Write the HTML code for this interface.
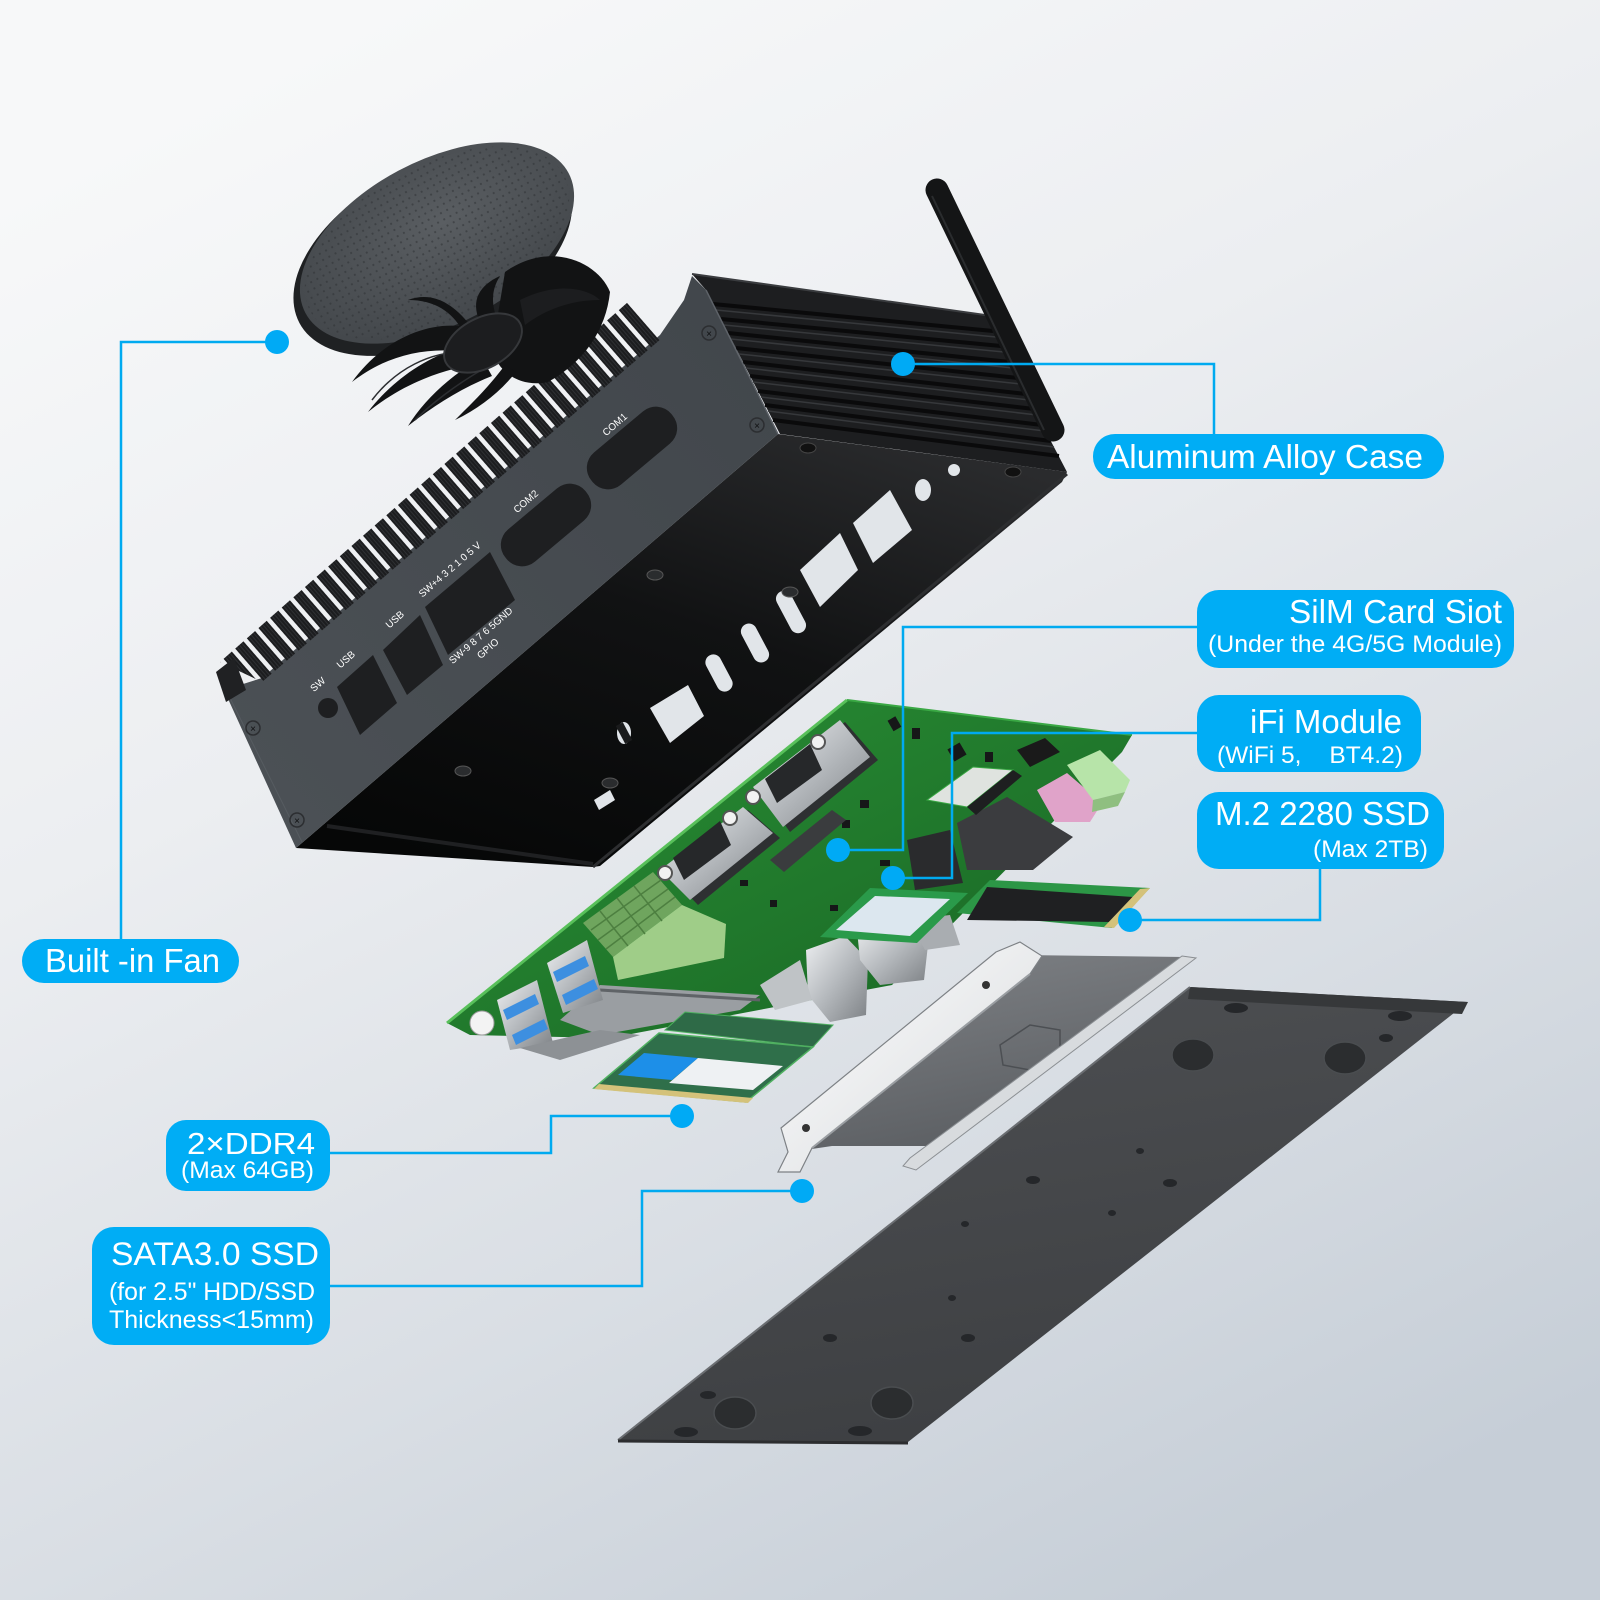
<!DOCTYPE html>
<html><head><meta charset="utf-8"><style>
html,body{margin:0;padding:0;width:1600px;height:1600px;overflow:hidden;background:#e6e9ec}
svg{display:block}
text{font-family:"Liberation Sans",Arial,sans-serif}
</style></head><body>
<svg width="1600" height="1600" viewBox="0 0 1600 1600" xmlns="http://www.w3.org/2000/svg">
<defs>
<linearGradient id="bg" x1="0.25" y1="0" x2="0.75" y2="1">
<stop offset="0" stop-color="#f7f8f9"/><stop offset="0.35" stop-color="#eceef1"/><stop offset="0.7" stop-color="#d9dee4"/><stop offset="1" stop-color="#c6ced7"/></linearGradient>
<pattern id="fins" width="15.5" height="140" patternUnits="userSpaceOnUse" patternTransform="rotate(-41)">
<rect x="0" y="0" width="11" height="140" fill="#1c1d1f"/><rect x="2" y="0" width="1" height="140" fill="#2e3033"/><rect x="5" y="0" width="1" height="140" fill="#2e3033"/><rect x="8" y="0" width="1" height="140" fill="#2e3033"/></pattern>
<pattern id="dots" width="7" height="7" patternUnits="userSpaceOnUse"><circle cx="3.5" cy="3.5" r="1.1" fill="#2f3235"/></pattern>
<radialGradient id="disk" cx="0.55" cy="0.4" r="0.7"><stop offset="0" stop-color="#5a5e62"/><stop offset="1" stop-color="#404448"/></radialGradient>
<linearGradient id="panel" x1="0" y1="1" x2="1" y2="0"><stop offset="0" stop-color="#4c5156"/><stop offset="1" stop-color="#41464b"/></linearGradient>
<linearGradient id="inter" x1="0.8" y1="0" x2="0.2" y2="1"><stop offset="0" stop-color="#2a2b2d"/><stop offset="0.45" stop-color="#111213"/><stop offset="1" stop-color="#060707"/></linearGradient>
<linearGradient id="pcb" x1="0" y1="0" x2="1" y2="1"><stop offset="0" stop-color="#2a9035"/><stop offset="1" stop-color="#186424"/></linearGradient>
<linearGradient id="silver" x1="0" y1="0" x2="1" y2="1"><stop offset="0" stop-color="#eef0f2"/><stop offset="0.5" stop-color="#b6babe"/><stop offset="1" stop-color="#7d8185"/></linearGradient>
<linearGradient id="plate" x1="0" y1="0" x2="0.3" y2="1"><stop offset="0" stop-color="#4e5053"/><stop offset="1" stop-color="#3e4043"/></linearGradient>
<linearGradient id="floor" x1="0" y1="0" x2="0.4" y2="1"><stop offset="0" stop-color="#808387"/><stop offset="1" stop-color="#5c5f63"/></linearGradient>
<linearGradient id="wall" x1="0" y1="0" x2="1" y2="1"><stop offset="0" stop-color="#ffffff"/><stop offset="1" stop-color="#d6d9dc"/></linearGradient>
</defs>

<rect width="1600" height="1600" fill="url(#bg)"/>

<!-- bottom plate -->
<polygon points="1190,987 1468,1002 908,1442 618,1440" fill="url(#plate)"/>
<polygon points="1190,987 1468,1002 1462,1014 1188,999" fill="#36383a"/>
<line x1="1190" y1="987" x2="618" y2="1440" stroke="#6b6e72" stroke-width="2"/>
<line x1="618" y1="1441" x2="908" y2="1443" stroke="#2c2d2f" stroke-width="3"/>
<g fill="#2b2d2f" stroke="#4a4d50" stroke-width="1.5">
<ellipse cx="1193" cy="1055" rx="21" ry="16"/><ellipse cx="1345" cy="1058" rx="21" ry="16"/>
<ellipse cx="735" cy="1413" rx="21" ry="16"/><ellipse cx="892" cy="1403" rx="21" ry="16"/></g>
<g fill="#25272a">
<ellipse cx="1236" cy="1008" rx="12" ry="5"/><ellipse cx="1400" cy="1016" rx="12" ry="5"/>
<ellipse cx="686" cy="1432" rx="12" ry="5"/><ellipse cx="860" cy="1431" rx="12" ry="5"/>
<ellipse cx="1386" cy="1038" rx="7" ry="4"/><ellipse cx="1033" cy="1180" rx="7" ry="4"/>
<ellipse cx="965" cy="1224" rx="4" ry="3"/><ellipse cx="952" cy="1298" rx="4" ry="3"/>
<ellipse cx="968" cy="1338" rx="7" ry="4"/><ellipse cx="830" cy="1338" rx="7" ry="4"/>
<ellipse cx="1140" cy="1151" rx="4" ry="3"/><ellipse cx="1170" cy="1183" rx="7" ry="4"/>
<ellipse cx="1112" cy="1213" rx="4" ry="3"/><ellipse cx="708" cy="1395" rx="8" ry="4"/></g>

<!-- HDD bracket -->
<polygon points="1020,955 1185,957 932,1146 832,1146 805,1150" fill="url(#floor)"/>
<polygon points="1000,1045 1030,1025 1060,1030 1060,1055 1030,1070 1003,1065" fill="none" stroke="#4c4f53" stroke-width="1.5"/>
<polygon points="1182,956 1196,958 916,1170 903,1166 910,1158" fill="#d8dbde" stroke="#8b8f93" stroke-width="1"/>
<polygon points="996,952 1020,942 1042,956 1030,974 812,1148 806,1160 800,1172 778,1172 788,1152 781,1128" fill="url(#wall)" stroke="#7d8185" stroke-width="1.2"/>
<line x1="1030" y1="974" x2="812" y2="1148" stroke="#9a9ea2" stroke-width="2"/>
<circle cx="986" cy="985" r="4" fill="#333"/><circle cx="806" cy="1128" r="4" fill="#333"/>

<!-- PCB -->
<polygon points="447,1023 847,700 1132,735 1122,752 892,985 610,1038 470,1035" fill="url(#pcb)"/>
<line x1="447" y1="1023" x2="847" y2="700" stroke="#58c05a" stroke-width="3"/>
<line x1="847" y1="700" x2="1132" y2="735" stroke="#3aa844" stroke-width="2"/>
<g fill="#161718">
<rect x="890" y="718" width="9" height="12" transform="rotate(-30 894 724)"/><rect x="912" y="728" width="8" height="11"/>
<rect x="950" y="745" width="14" height="14" transform="rotate(-30 957 752)"/><rect x="985" y="752" width="8" height="10"/>
<rect x="860" y="800" width="9" height="8"/><rect x="842" y="820" width="8" height="8"/><rect x="880" y="860" width="10" height="6"/>
<rect x="740" y="880" width="8" height="6"/><rect x="770" y="900" width="7" height="7"/><rect x="830" y="905" width="8" height="6"/></g>
<polygon points="770,860 832,810 846,820 784,872" fill="#3a3c3e"/>
<!-- DB9 connectors -->
<polygon points="760,790 845,722 878,760 790,832" fill="#2e3032"/>
<polygon points="753,787 840,720 870,757 783,827" fill="url(#silver)"/>
<polygon points="765,779 810,744 822,770 777,803" fill="#26282a"/>
<circle cx="818" cy="742" r="7" fill="#f2f2f2" stroke="#555" stroke-width="2"/><circle cx="753" cy="797" r="7" fill="#f2f2f2" stroke="#555" stroke-width="2"/>
<polygon points="668,874 748,810 780,838 698,905" fill="#2e3032"/>
<polygon points="660,870 743,807 773,833 690,900" fill="url(#silver)"/>
<polygon points="673,858 720,821 731,845 684,880" fill="#26282a"/>
<circle cx="730" cy="818" r="7" fill="#f2f2f2" stroke="#555" stroke-width="2"/><circle cx="665" cy="873" r="7" fill="#f2f2f2" stroke="#555" stroke-width="2"/>
<!-- terminal block -->
<polygon points="583,923 653,872 682,905 613,957" fill="#6fa55e"/>
<polygon points="613,957 682,905 726,924 724,958 618,980" fill="#9fcd88"/>
<g stroke="#4d7f40" stroke-width="1.5">
<line x1="591" y1="930" x2="661" y2="880"/><line x1="598" y1="940" x2="668" y2="889"/><line x1="606" y1="949" x2="675" y2="897"/>
<line x1="600" y1="911" x2="628" y2="946"/><line x1="617" y1="898" x2="645" y2="934"/><line x1="634" y1="886" x2="662" y2="921"/></g>
<polygon points="560,1020 600,985 760,995 740,1010 600,1035" fill="#9a9ea2"/>
<line x1="600" y1="990" x2="760" y2="1000" stroke="#5f6367" stroke-width="3"/>
<!-- USB stacks -->
<polygon points="547,963 587,940 603,1000 563,1013" fill="url(#silver)"/>
<polygon points="553,972 585,956 589,966 557,982" fill="#3d8fe0"/><polygon points="562,995 594,979 598,989 566,1005" fill="#3d8fe0"/>
<polygon points="497,1000 537,980 553,1043 510,1050" fill="url(#silver)"/>
<polygon points="503,1010 535,994 539,1004 507,1020" fill="#3d8fe0"/><polygon points="512,1035 544,1019 548,1029 516,1045" fill="#3d8fe0"/>
<polygon points="520,1048 600,1030 640,1035 560,1060" fill="#8d9195"/>
<circle cx="482" cy="1023" r="12" fill="#f3f3f3" stroke="#9a9a9a" stroke-width="1"/>
<!-- silver parts below -->
<polygon points="806,950 845,936 868,960 866,1015 830,1022 808,995" fill="url(#silver)"/>
<polygon points="857,930 905,922 928,945 924,980 880,985 860,960" fill="url(#silver)"/>
<polygon points="908,920 950,915 960,945 925,950" fill="#a9adb1"/>
<polygon points="760,985 800,960 812,1000 775,1010" fill="#bfc3c6"/>
<!-- RAM -->
<polygon points="665,1030 685,1012 833,1025 813,1047" fill="#2e6a47" stroke="#4fb060" stroke-width="1"/>
<polygon points="594,1088 659,1033 813,1047 746,1102" fill="#2f6f4a" stroke="#4fb060" stroke-width="1.5"/>
<polygon points="644,1053 698,1058 672,1080 618,1075" fill="#1d8fe8"/>
<polygon points="698,1058 783,1066 753,1090 669,1083" fill="#eef1f3"/>
<polygon points="599,1084 753,1098 748,1103 594,1089" fill="#d4c27a"/>
<!-- RJ45 & jacks -->
<polygon points="907,840 950,830 963,883 915,890" fill="#2a2b2d"/>
<polygon points="957,823 1007,797 1073,837 1033,870 967,870" fill="#3b3c3f"/>
<polygon points="1017,750 1045,738 1060,752 1030,767" fill="#1a1a1a"/>
<polygon points="1037,790 1067,773 1102,803 1090,822 1055,822" fill="#e0a3c9"/>
<polygon points="1067,765 1100,750 1130,780 1125,792 1093,800" fill="#b7e4a9"/>
<polygon points="1093,800 1125,792 1118,806 1092,812" fill="#8fbf80"/>
<polygon points="927,800 973,767 1013,770 967,807" fill="#dfe3df" stroke="#3aa844" stroke-width="1"/>
<polygon points="967,807 1013,770 1022,776 976,815" fill="#1e1f20"/>
<!-- mSATA -->
<polygon points="820,937 870,888 968,893 917,943" fill="#2a9a4a"/>
<polygon points="836,930 875,896 950,899 910,936" fill="#dce7ef"/>
<!-- M.2 -->
<polygon points="957,913 990,880 1150,888 1112,928" fill="#2c9646"/>
<polygon points="987,887 1133,897 1110,922 967,920" fill="#1f2022"/>
<polygon points="1140,889 1150,888 1114,928 1104,927" fill="#d4c27a"/>

<!-- CASE -->
<polygon points="296,848 778,434 1067,472 1062,482 600,866 593,867" fill="url(#inter)"/>
<line x1="593" y1="867" x2="1067" y2="474" stroke="#2d2e30" stroke-width="3"/>
<line x1="327" y1="826" x2="593" y2="864" stroke="#1f2022" stroke-width="4"/>
<g fill="#e1e5e9">
<polygon points="853,523 890,490 912,530 873,563"/>
<polygon points="800,570 840,533 858,570 820,607"/>
<polygon points="650,708 688,685 704,716 670,743"/>
<rect x="-8" y="-23" width="16" height="46" rx="8" transform="translate(791,612) rotate(-28)"/>
<rect x="-8" y="-21" width="16" height="42" rx="8" transform="translate(755,643) rotate(-28)"/>
<rect x="-8" y="-20" width="16" height="40" rx="8" transform="translate(719,673) rotate(-28)"/>
<ellipse cx="923" cy="490" rx="8" ry="11"/><ellipse cx="954" cy="470" rx="6" ry="6"/>
<ellipse cx="624" cy="733" rx="7" ry="11"/>
<polygon points="594,800 610,790 615,800 599,810"/></g>
<rect x="-4" y="-10" width="8" height="20" fill="#1a1b1c" transform="translate(624,733) rotate(-28)"/>
<g fill="#2a2c2e" stroke="#555" stroke-width="1">
<ellipse cx="655" cy="575" rx="8" ry="5"/><ellipse cx="790" cy="592" rx="8" ry="5"/><ellipse cx="463" cy="771" rx="8" ry="5"/><ellipse cx="610" cy="783" rx="8" ry="5"/></g>

<!-- heatsink top -->
<polygon points="692,274 985,315 1067,472 780,434 706,290" fill="#1d1e20"/>
<g stroke="#0a0a0b" stroke-width="4">
<line x1="713" y1="304" x2="993" y2="331"/><line x1="721" y1="319" x2="1001" y2="346"/><line x1="728" y1="333" x2="1010" y2="362"/>
<line x1="736" y1="348" x2="1018" y2="378"/><line x1="743" y1="362" x2="1026" y2="394"/><line x1="750" y1="376" x2="1034" y2="409"/>
<line x1="758" y1="391" x2="1042" y2="425"/><line x1="765" y1="405" x2="1051" y2="441"/><line x1="773" y1="420" x2="1059" y2="456"/></g>
<g stroke="#36383b" stroke-width="1.5">
<line x1="716" y1="310" x2="996" y2="337"/><line x1="724" y1="325" x2="1004" y2="352"/><line x1="731" y1="339" x2="1013" y2="368"/>
<line x1="739" y1="354" x2="1021" y2="384"/><line x1="746" y1="368" x2="1029" y2="400"/><line x1="753" y1="382" x2="1037" y2="415"/>
<line x1="761" y1="397" x2="1045" y2="431"/><line x1="768" y1="411" x2="1054" y2="447"/></g>
<line x1="692" y1="274" x2="985" y2="315" stroke="#3a3c3f" stroke-width="2"/>
<g fill="#111" stroke="#444" stroke-width="1"><ellipse cx="808" cy="448" rx="8" ry="5"/><ellipse cx="1013" cy="472" rx="8" ry="5"/></g>

<!-- front panel -->
<polygon points="224,690 262,678 660,335 684,300 692,276 706,290 778,434 296,848" fill="url(#panel)"/>
<line x1="706" y1="290" x2="778" y2="434" stroke="#5d6268" stroke-width="1.5"/>
<line x1="230" y1="698" x2="302" y2="842" stroke="#565b60" stroke-width="1"/>
<!-- fins -->
<polygon points="220,662 628,302 662,338 262,682" fill="url(#fins)"/>
<polygon points="216,672 234,658 246,690 226,702" fill="#202123"/>
<!-- panel ports -->
<g fill="#1e1f21">
<circle cx="328" cy="708" r="10"/>
<polygon points="337,687 373,655 397,703 360,735"/>
<polygon points="383,650 420,615 443,665 407,695"/>
<polygon points="425,607 490,552 515,600 448,655"/>
<rect x="-52" y="-21" width="104" height="42" rx="20" transform="translate(546,525) rotate(-40)"/>
<rect x="-52" y="-21" width="104" height="42" rx="20" transform="translate(632,448) rotate(-40)"/></g>
<g fill="none" stroke="#2c2e31" stroke-width="1.5">
<circle cx="253" cy="728" r="7"/><circle cx="297" cy="820" r="7"/><circle cx="709" cy="333" r="7"/><circle cx="757" cy="425" r="7"/></g>
<g fill="#0f1011" font-size="10" text-anchor="middle">
<text x="253" y="732">×</text><text x="297" y="824">×</text><text x="709" y="337">×</text><text x="757" y="429">×</text></g>
<g fill="#ffffff" font-size="10" text-anchor="middle">
<text transform="translate(320,687) rotate(-41)">SW</text>
<text transform="translate(348,662) rotate(-41)">USB</text>
<text transform="translate(397,622) rotate(-41)">USB</text>
<text transform="translate(452,572) rotate(-41)">SW+4 3 2 1 0 5 V</text>
<text transform="translate(483,638) rotate(-41)">SW-9 8 7 6 5GND</text>
<text transform="translate(490,651) rotate(-41)">GPIO</text>
<text transform="translate(528,504) rotate(-41)">COM2</text>
<text transform="translate(617,427) rotate(-41)">COM1</text></g>

<!-- antenna -->
<line x1="937" y1="190" x2="1053" y2="430" stroke="#141516" stroke-width="23" stroke-linecap="round"/>
<line x1="932" y1="196" x2="1044" y2="430" stroke="#2a2c2e" stroke-width="2"/>

<!-- fan disk -->
<g transform="translate(437,243) rotate(-28)">
<ellipse cx="-8" cy="6" rx="151" ry="86" fill="#1f2123"/>
<ellipse cx="0" cy="0" rx="149" ry="82" fill="url(#disk)"/>
<ellipse cx="0" cy="0" rx="144" ry="78" fill="url(#dots)" opacity="0.55"/>
</g>
<!-- fan blades -->
<g fill="#121314">
<path d="M505,272 C550,240 598,262 610,292 C606,330 584,362 548,382 C520,388 498,372 492,350 Z"/>
<path d="M472,328 C430,318 382,340 352,382 C385,356 425,346 468,352 Z"/>
<path d="M472,345 C432,352 392,380 368,412 C400,386 438,370 478,364 Z"/>
<path d="M482,358 C452,374 424,400 408,426 C436,404 462,388 492,376 Z"/>
<path d="M505,365 C488,388 470,405 455,420 C480,408 500,392 516,372 Z"/>
<path d="M470,325 C450,300 430,292 408,300 C435,300 452,312 462,330 Z"/>
<path d="M480,322 C470,300 480,285 500,276 C490,292 492,306 498,322 Z"/>
<path d="M520,300 C560,280 590,290 600,300 C570,300 545,310 525,325 Z" fill="#1c1d1f"/>
</g>
<g stroke="#2c2e31" stroke-width="1.5" fill="none">
<path d="M470,352 C430,350 395,370 372,400"/><path d="M485,368 C455,385 430,405 415,420"/>
</g>
<g transform="translate(483,343) rotate(-28)"><ellipse rx="42" ry="25" fill="#1c1d1f" stroke="#36383b" stroke-width="2"/></g>

<!-- connector lines -->
<g fill="none" stroke="#00aaf0" stroke-width="2.5">
<path d="M277,342 H121 V939"/>
<path d="M903,364 H1214 V434"/>
<path d="M838,850 H903 V627 H1197"/>
<path d="M893,878 H952 V733 H1197"/>
<path d="M1130,920 H1320 V869"/>
<path d="M682,1116 H551 V1153 H330"/>
<path d="M802,1191 H642 V1286 H330"/>
</g>
<g fill="#00aaf5">
<circle cx="277" cy="342" r="12"/><circle cx="903" cy="364" r="12"/><circle cx="838" cy="850" r="12"/>
<circle cx="893" cy="878" r="12"/><circle cx="1130" cy="920" r="12"/><circle cx="682" cy="1116" r="12"/><circle cx="802" cy="1191" r="12"/>
</g>

<!-- label boxes -->
<g fill="#00adf5">
<rect x="22" y="939" width="217" height="44" rx="22"/>
<rect x="1093" y="434" width="351" height="45" rx="22"/>
<rect x="1197" y="590" width="317" height="78" rx="22"/>
<rect x="1197" y="695" width="224" height="77" rx="22"/>
<rect x="1197" y="792" width="247" height="77" rx="22"/>
<rect x="166" y="1120" width="164" height="71" rx="20"/>
<rect x="92" y="1227" width="238" height="118" rx="22"/>
</g>
<g fill="#ffffff">
<text x="45" y="972" font-size="33" textLength="175" lengthAdjust="spacingAndGlyphs">Built -in Fan</text>
<text x="1107" y="468" font-size="33" textLength="316" lengthAdjust="spacingAndGlyphs">Aluminum Alloy Case</text>
<text x="1289" y="623" font-size="33" textLength="213" lengthAdjust="spacingAndGlyphs">SilM Card Siot</text>
<text x="1208" y="652" font-size="24.5" textLength="294" lengthAdjust="spacingAndGlyphs">(Under the 4G/5G Module)</text>
<text x="1250" y="733" font-size="33" textLength="152" lengthAdjust="spacingAndGlyphs">iFi Module</text>
<text x="1217" y="763" font-size="24.5">(WiFi 5,<tspan dx="28">BT4.2)</tspan></text>
<text x="1215" y="825" font-size="33" textLength="215" lengthAdjust="spacingAndGlyphs">M.2 2280 SSD</text>
<text x="1313" y="857" font-size="24.5" textLength="115" lengthAdjust="spacingAndGlyphs">(Max 2TB)</text>
<text x="187" y="1154" font-size="31" textLength="128" lengthAdjust="spacingAndGlyphs">2×DDR4</text>
<text x="181" y="1178" font-size="24" textLength="133" lengthAdjust="spacingAndGlyphs">(Max 64GB)</text>
<text x="111" y="1265" font-size="32" textLength="208" lengthAdjust="spacingAndGlyphs">SATA3.0 SSD</text>
<text x="109" y="1300" font-size="25" textLength="206" lengthAdjust="spacingAndGlyphs">(for 2.5" HDD/SSD</text>
<text x="109" y="1328" font-size="25" textLength="205" lengthAdjust="spacingAndGlyphs">Thickness&lt;15mm)</text>
</g>
</svg>
</body></html>
